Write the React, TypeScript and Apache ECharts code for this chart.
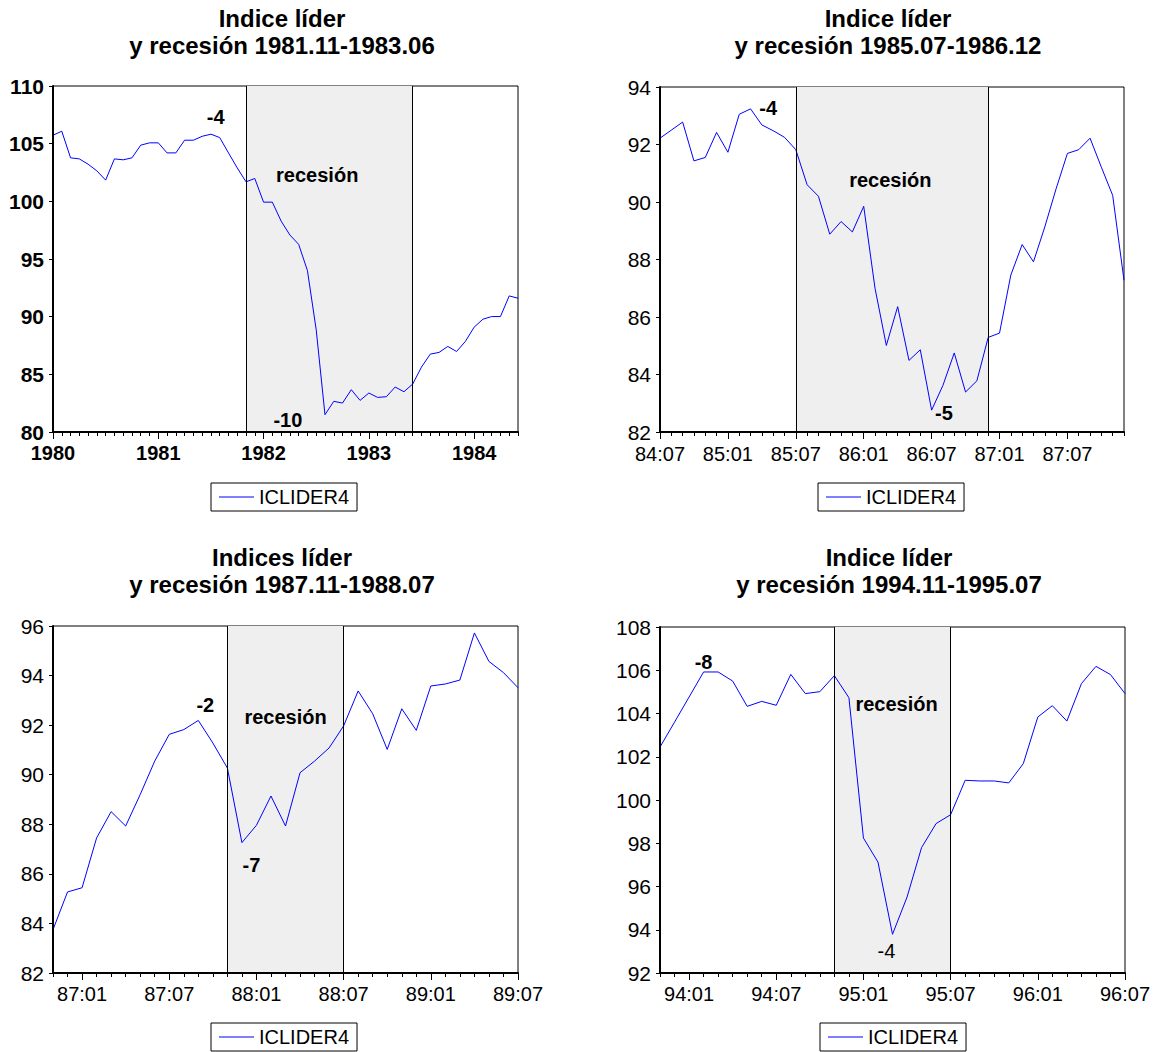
import React, { useEffect, useRef } from "react";
import * as echarts from "echarts";

// ---------- data ----------
function months(y: number, m: number, n: number): string[] {
  const out: string[] = [];
  for (let i = 0; i < n; i++) {
    const k = m - 1 + i;
    const yy = y + Math.floor(k / 12);
    const mm = (k % 12) + 1;
    out.push(`${yy}:${String(mm).padStart(2, "0")}`);
  }
  return out;
}

const ICLIDER4_P1 = [105.73, 106.08, 103.77, 103.68, 103.22, 102.64, 101.84, 103.68, 103.6, 103.77, 104.87, 105.07, 105.07, 104.2, 104.2, 105.3, 105.3, 105.64, 105.82, 105.53, 104.2, 102.9, 101.69, 101.98, 99.93, 99.93, 98.29, 97.08, 96.27, 94.0, 88.86, 81.5, 82.66, 82.51, 83.67, 82.74, 83.38, 83.0, 83.06, 83.9, 83.49, 84.16, 85.63, 86.75, 86.9, 87.42, 86.98, 87.85, 89.09, 89.78, 90.01, 90.01, 91.8, 91.6];
const ICLIDER4_P2 = [92.22, 92.5, 92.78, 91.43, 91.55, 92.42, 91.73, 93.05, 93.24, 92.68, 92.48, 92.25, 91.82, 90.6, 90.2, 88.88, 89.32, 88.96, 89.85, 87.0, 85.01, 86.36, 84.49, 84.86, 82.76, 83.62, 84.75, 83.39, 83.78, 85.29, 85.44, 87.46, 88.52, 87.92, 89.13, 90.46, 91.69, 91.82, 92.22, 91.21, 90.23, 87.28];
const ICLIDER4_P3 = [83.75, 85.27, 85.44, 87.45, 88.51, 87.93, 89.2, 90.55, 91.63, 91.82, 92.19, 91.28, 90.27, 87.26, 87.96, 89.14, 87.93, 90.08, 90.55, 91.08, 91.97, 93.38, 92.46, 91.02, 92.66, 91.79, 93.58, 93.66, 93.82, 95.72, 94.57, 94.12, 93.51];
const ICLIDER4_P4 = [102.45, 103.6, 104.76, 105.92, 105.92, 105.5, 104.33, 104.56, 104.38, 105.81, 104.92, 105.01, 105.75, 104.73, 98.24, 97.13, 93.79, 95.51, 97.8, 98.91, 99.32, 100.91, 100.88, 100.88, 100.79, 101.68, 103.84, 104.36, 103.65, 105.38, 106.18, 105.8, 104.92];

const CATS_P1 = months(1980, 1, ICLIDER4_P1.length);
const CATS_P2 = months(1984, 7, ICLIDER4_P2.length);
const CATS_P3 = months(1986, 11, ICLIDER4_P3.length);
const CATS_P4 = months(1993, 11, ICLIDER4_P4.length);

const REC_P1 = ["1981:11", "1983:06"];
const REC_P2 = ["1985:07", "1986:12"];
const REC_P3 = ["1987:11", "1988:07"];
const REC_P4 = ["1994:11", "1995:07"];

const TITLES = [
  "Indice líder\ny recesión 1981.11-1983.06",
  "Indice líder\ny recesión 1985.07-1986.12",
  "Indices líder\ny recesión 1987.11-1988.07",
  "Indice líder\ny recesión 1994.11-1995.07",
];

// annotations: [text, category, value, bold, dx]
type Ann = [string, string, number, boolean, number];
const ANN_P1: Ann[] = [["-4", "1981:08", 107.3, true, -4], ["recesión", "1982:07", 102.27, true, 1], ["-10", "1982:04", 81.06, true, -2]];
const ANN_P2: Ann[] = [["-4", "1985:05", 93.26, true, -5], ["recesión", "1986:03", 90.76, true, 4], ["-5", "1986:08", 82.67, true, 1]];
const ANN_P3: Ann[] = [["-2", "1987:09", 92.8, true, 7], ["recesión", "1988:03", 92.32, true, 0], ["-7", "1988:01", 86.35, true, -5]];
const ANN_P4: Ann[] = [["-8", "1994:02", 106.37, true, 0], ["recesión", "1995:03", 104.43, true, 4], ["-4", "1995:03", 93.0, false, -6]];

const Y_P1 = [80, 110, 5];
const Y_P2 = [82, 94, 2];
const Y_P3 = [82, 96, 2];
const Y_P4 = [92, 108, 2];

// ---------- layout ----------
const FONT = '"Liberation Sans", Arial, Helvetica, sans-serif';

const panels = [
  { cats: CATS_P1, values: ICLIDER4_P1, rec: REC_P1, ann: ANN_P1, y: Y_P1, bold: true, yearly: true,
    grid: { left: 53, top: 86, width: 465, height: 346 }, tx: 282, ty: 4.5, lg: { left: 211, top: 483 }, xMargin: 11 },
  { cats: CATS_P2, values: ICLIDER4_P2, rec: REC_P2, ann: ANN_P2, y: Y_P2, bold: false, yearly: false,
    grid: { left: 660, top: 87, width: 464, height: 345 }, tx: 888, ty: 4.5, lg: { left: 818, top: 483 }, xMargin: 12 },
  { cats: CATS_P3, values: ICLIDER4_P3, rec: REC_P3, ann: ANN_P3, y: Y_P3, bold: false, yearly: false,
    grid: { left: 53, top: 626, width: 465, height: 347 }, tx: 282, ty: 543.5, lg: { left: 211, top: 1023 }, xMargin: 11 },
  { cats: CATS_P4, values: ICLIDER4_P4, rec: REC_P4, ann: ANN_P4, y: Y_P4, bold: false, yearly: false,
    grid: { left: 660, top: 627, width: 465, height: 346 }, tx: 889, ty: 543.5, lg: { left: 820, top: 1023 }, xMargin: 11 },
];

function buildOption() {
  const grid: any[] = [];
  const xAxis: any[] = [];
  const yAxis: any[] = [];
  const series: any[] = [];
  const legend: any[] = [];
  const graphic: any[] = [];

  panels.forEach((p, i) => {
    const isLabel = p.yearly
      ? (_: number, v: string) => v.endsWith(":01")
      : (_: number, v: string) => v.endsWith(":01") || v.endsWith(":07");
    const fmt = p.yearly ? (v: string) => v.slice(0, 4) : (v: string) => v.slice(2);
    grid.push({ ...p.grid, show: true, borderColor: "#000", borderWidth: 1, backgroundColor: "transparent", containLabel: false });
    // main x axis
    xAxis.push({
      type: "category", gridIndex: i, position: "bottom", data: p.cats, boundaryGap: false,
      axisLine: { show: true, onZero: false, lineStyle: { color: "#000", width: 2 } },
      axisTick: { show: true, interval: 0, length: 4, inside: false, lineStyle: { color: "#000", width: 1 } },
      axisLabel: { interval: isLabel, formatter: fmt, color: "#000", fontFamily: FONT, fontSize: 20,
        fontWeight: p.bold ? "bold" : "normal", margin: p.xMargin },
      splitLine: { show: false },
      z: 5,
    });
    // overlay axis for longer ticks at labelled months
    xAxis.push({
      type: "category", gridIndex: i, position: "bottom", data: p.cats, boundaryGap: false,
      axisLine: { show: false, onZero: false },
      axisTick: { show: true, interval: isLabel, length: 7, inside: false, lineStyle: { color: "#000", width: 1 } },
      axisLabel: { show: false },
      splitLine: { show: false },
      z: 5,
    });
    yAxis.push({
      type: "value", gridIndex: i, position: "left", min: p.y[0], max: p.y[1], interval: p.y[2],
      axisLine: { show: true, onZero: false, lineStyle: { color: "#000", width: 2 } },
      axisTick: { show: true, length: 4, inside: false, lineStyle: { color: "#000", width: 1 } },
      axisLabel: { color: "#000", fontFamily: FONT, fontSize: 21, fontWeight: p.bold ? "bold" : "normal", margin: 9 },
      splitLine: { show: false },
      z: 5,
    });
    series.push({
      name: "ICLIDER4", type: "line", xAxisIndex: i * 2, yAxisIndex: i, data: p.values,
      symbol: "none", lineStyle: { color: "#0000FF", width: 1 }, itemStyle: { color: "#0000FF" },
      silent: true, z: 3,
      markArea: {
        silent: true,
        itemStyle: { color: "#EFEFEF" },
        data: [[{ xAxis: p.rec[0] }, { xAxis: p.rec[1] }]],
      },
      markLine: {
        silent: true, symbol: "none", label: { show: false },
        lineStyle: { color: "#000", width: 1, type: "solid" },
        data: [{ xAxis: p.rec[0] }, { xAxis: p.rec[1] }],
      },
      markPoint: {
        silent: true, symbol: "rect", symbolSize: 1,
        itemStyle: { color: "rgba(0,0,0,0)" },
        data: p.ann.map((a) => ({
          coord: [a[1], a[2]],
          label: {
            show: true, position: "inside", formatter: a[0], offset: [a[4], 0],
            color: "#000", fontFamily: FONT, fontSize: 20, fontWeight: a[3] ? "bold" : "normal",
          },
        })),
      },
    });
    legend.push({
      show: true, data: ["ICLIDER4"], left: p.lg.left, top: p.lg.top, selectedMode: false,
      borderColor: "#000", borderWidth: 1, padding: [4, 8, 4, 8], itemWidth: 35, itemHeight: 1,
      icon: "rect", itemStyle: { color: "#0000FF" },
      textStyle: { color: "#000", fontFamily: FONT, fontSize: 20 },
    });
    graphic.push({
      type: "text", x: p.tx, y: p.ty, silent: true,
      style: { text: TITLES[i], font: `bold 24px ${FONT}`, fill: "#000", textAlign: "center",
        textVerticalAlign: "top", lineHeight: 27 },
    });
  });

  return { animation: false, backgroundColor: "#fff", grid, xAxis, yAxis, series, legend, graphic };
}

export default function App() {
  const ref = useRef<HTMLDivElement>(null);
  useEffect(() => {
    if (!ref.current) return;
    const chart = echarts.init(ref.current, undefined, { renderer: "svg" });
    chart.setOption(buildOption() as any);
    return () => chart.dispose();
  }, []);
  return (
    <div
      ref={ref}
      style={{ position: "fixed", left: 0, top: 0, width: 1154, height: 1052, background: "#fff" }}
    />
  );
}
